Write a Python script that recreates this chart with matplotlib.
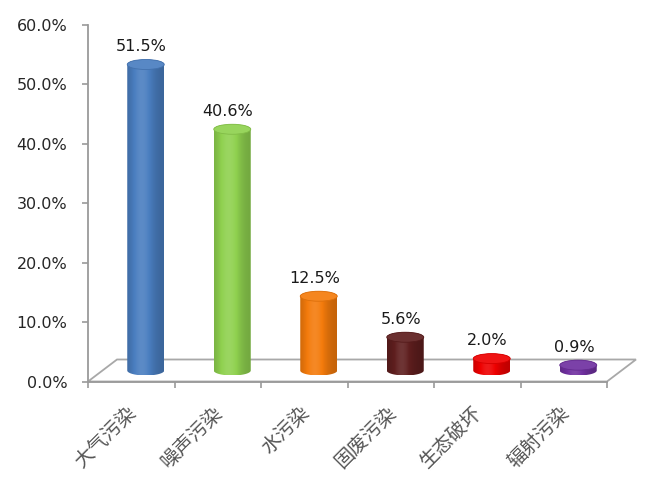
import numpy as np
import matplotlib
matplotlib.use('Agg')
import matplotlib.pyplot as plt
from matplotlib.patches import Polygon, Ellipse
from matplotlib.colors import to_rgb
from matplotlib.transforms import offset_copy

categories = ['大气污染', '噪声污染', '水污染', '固废污染', '生态破坏', '辐射污染']
values = [51.5, 40.6, 12.5, 5.6, 2.0, 0.9]
colors = ['#4a7ec0', '#8fd14f', '#f47b0c', '#5e1e1e', '#ee0000', '#7030a0']
yticks = [0, 10, 20, 30, 40, 50, 60]
ytick_labels = [f'{t:.1f}%' for t in yticks]

W, H = 663, 487
fig = plt.figure(figsize=(W / 100, H / 100), dpi=100)
fig.patch.set_facecolor('white')
left_px, right_px, top_px, bottom_px = 88, 607, 25, 381.5
ax = fig.add_axes([left_px / W, 1 - bottom_px / H,
                   (right_px - left_px) / W, (bottom_px - top_px) / H])
ax.set_facecolor('none')
n = len(categories)
ax.set_xlim(-0.5, n - 0.5)
ax.set_ylim(0, 60)
sx = n / (right_px - left_px)
sy = 60 / (bottom_px - top_px)
ddx, ddy = 29 * sx, 22 * sy
bw, eh = 37 * sx, 10 * sy

axis_col = '#9a9a9a'
# floor
floor = Polygon([(-0.5, 0), (n - 0.5, 0), (n - 0.5 + ddx, ddy), (-0.5 + ddx, ddy)],
                closed=True, facecolor='white', edgecolor='#a8a8a8', lw=1.3,
                clip_on=False, zorder=1)
ax.add_patch(floor)

for s in ['top', 'right']:
    ax.spines[s].set_visible(False)
for s in ['left', 'bottom']:
    ax.spines[s].set_color(axis_col)
    ax.spines[s].set_linewidth(1.3)
    ax.spines[s].set_zorder(2)

ax.set_xticks(np.arange(-0.5, n, 1.0))
ax.set_xticklabels([])
ax.tick_params(axis='x', direction='out', length=4.5, width=1.2, color=axis_col)
ax.set_yticks(yticks)
ax.set_yticklabels(ytick_labels)
ax.tick_params(axis='y', direction='out', length=4.5, width=1.2, color=axis_col,
               pad=10.5, labelsize=11.5, labelcolor='#262626')


def shade(c, k):
    c = np.array(c)
    if k < 1:
        return c * k
    return c + (1 - c) * (k - 1)


t = np.linspace(0, 1, 64)
prof = 0.80 + 0.30 * np.exp(-((t - 0.40) / 0.32) ** 2)

for i, (v, col) in enumerate(zip(values, colors)):
    base_rgb = to_rgb(col)
    cx = i + ddx / 2
    yb = ddy / 2
    yt = yb + v
    th1 = np.linspace(np.pi, 2 * np.pi, 60)
    th2 = np.linspace(0, np.pi, 60)
    xs = np.concatenate([cx + bw / 2 * np.cos(th1), cx + bw / 2 * np.cos(th2)])
    ys = np.concatenate([yb + eh / 2 * np.sin(th1), yt + eh / 2 * np.sin(th2)])
    body = Polygon(np.column_stack([xs, ys]), closed=True, facecolor='none',
                   edgecolor='none', transform=ax.transData)
    ax.add_patch(body)
    grad = np.array([[shade(base_rgb, k) for k in prof]])
    im = ax.imshow(grad, extent=[cx - bw / 2, cx + bw / 2, yb - eh / 2, yt + eh / 2],
                   aspect='auto', interpolation='bilinear', zorder=3, origin='lower')
    im.set_clip_path(body)
    top = Ellipse((cx, yt), bw, eh, facecolor=shade(base_rgb, 1.08),
                  edgecolor=shade(base_rgb, 0.9), lw=0.6, zorder=4)
    ax.add_patch(top)
    ax.annotate(f'{v:.1f}%', xy=(cx, yt), xytext=(-3, 13), textcoords='offset points',
                ha='center', va='center', fontsize=11.5, color='#1a1a1a', zorder=5)

ax.set_xlim(-0.5, n - 0.5)
ax.set_ylim(0, 60)

trans = offset_copy(ax.transData, fig=fig, x=2, y=-28, units='dots')
for i, cat in enumerate(categories):
    ax.text(i, 0, cat, transform=trans, rotation=45, rotation_mode='anchor',
            ha='right', va='center', fontsize=14, color='#555555',
            family=['Noto Sans CJK SC', 'DejaVu Sans'], clip_on=False)

fig.savefig('out.png', dpi=100, facecolor='white')
